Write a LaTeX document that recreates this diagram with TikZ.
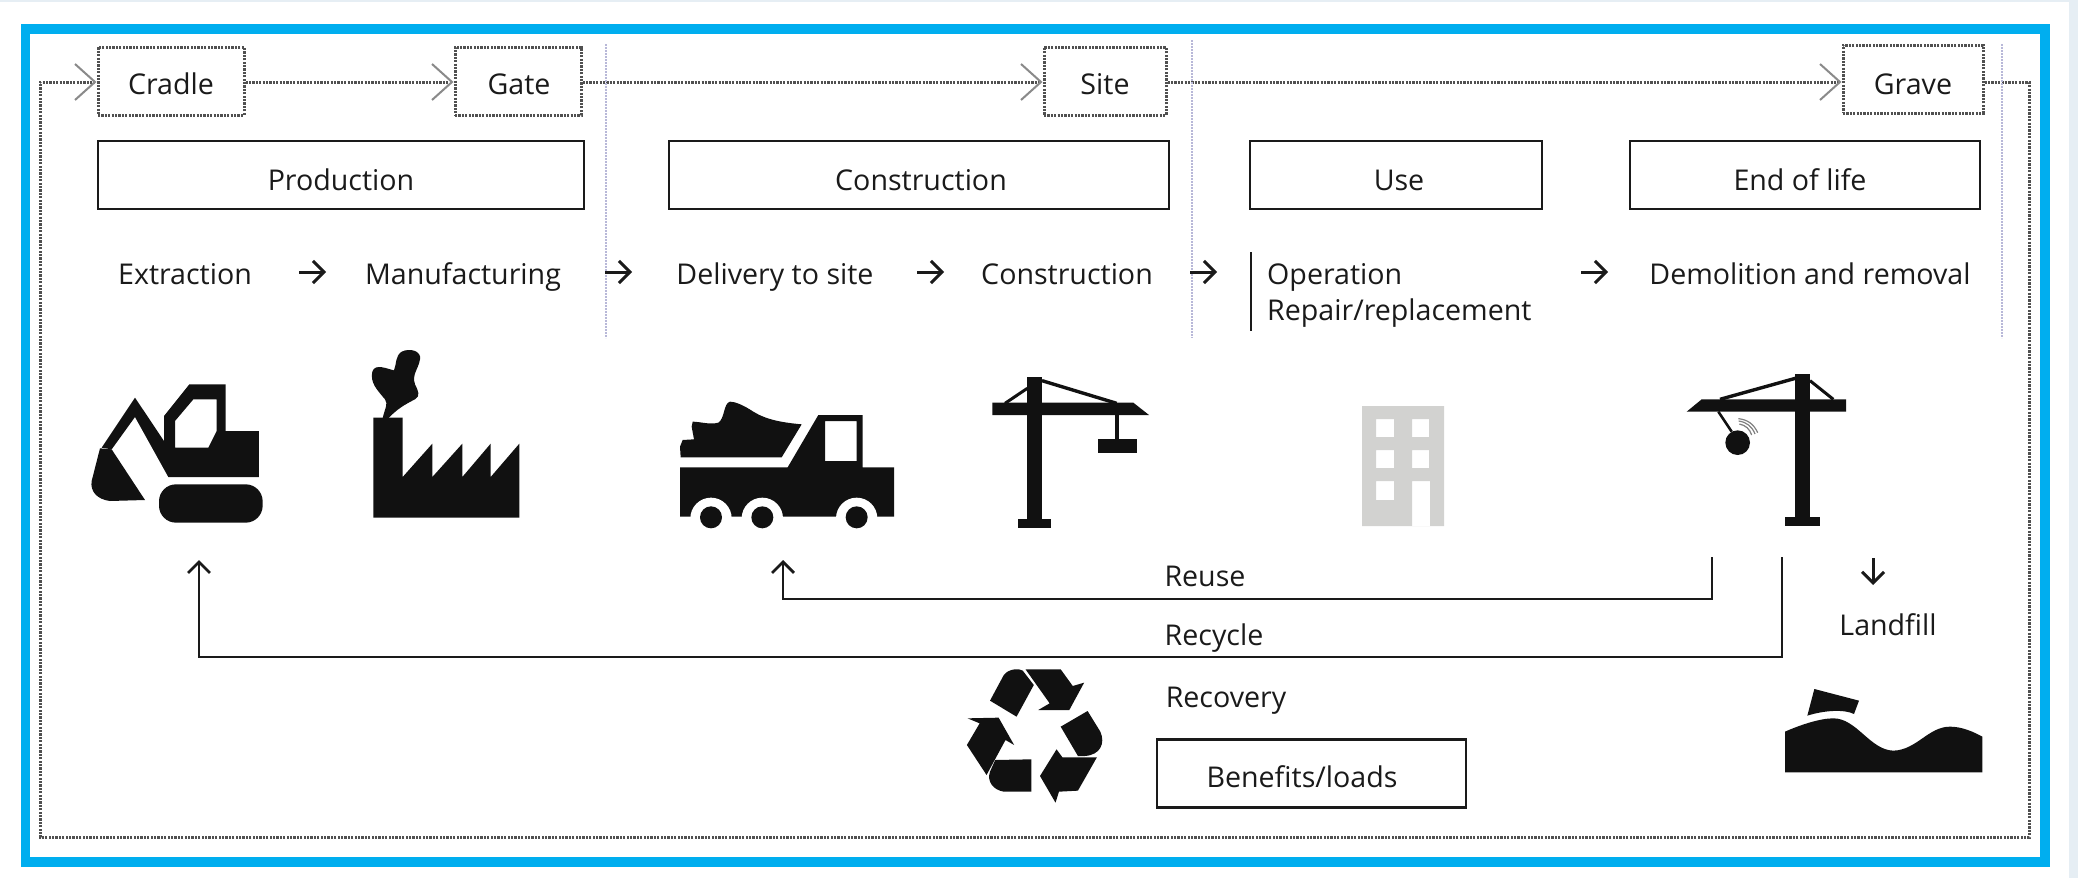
\documentclass[tikz,border=0pt]{standalone}
\usepackage{fontspec}
\setmainfont{Open Sans}
\usetikzlibrary{arrows.meta}
\definecolor{ink}{HTML}{1A1A1A}
\definecolor{icon}{HTML}{111111}
\definecolor{frame}{HTML}{00AEEF}
\definecolor{page}{HTML}{E6EEF4}
\definecolor{dotc}{HTML}{505050}
\definecolor{tipc}{HTML}{8A8A8A}
\definecolor{divc}{HTML}{B8B8D8}
\definecolor{bldg}{HTML}{D2D2D0}
\tikzset{
 x=1pt,y=-1pt,
 lbl/.style={font=\fontsize{28.6}{32}\selectfont,text=ink,inner sep=0pt,anchor=base},
 lblw/.style={lbl,anchor=base west},
 solidbox/.style={draw=ink,line width=2.7pt,fill=white,inner sep=0pt},
 dotbox/.style={draw=dotc,line width=3pt,dash pattern=on 2.2pt off 1.2pt,inner sep=0pt},
 dotline/.style={draw=dotc,line width=3pt,dash pattern=on 2.2pt off 1.2pt},
 dotarrow/.style={dotline,-{Straight Barb[length=20pt,width=36pt,line width=2pt,color=tipc]}},
 divider/.style={draw=divc,line width=1.6pt,dash pattern=on 2pt off 1pt},
 flow/.style={draw=ink,line width=2.8pt,-{Straight Barb[length=11pt,width=22pt,line width=2.8pt]}},
 mini/.style={draw=ink,line width=3pt,-{Straight Barb[length=11pt,width=22pt,line width=3pt]}},
 solid3/.style={fill=icon,draw=none},
}
\begin{document}
\begin{tikzpicture}
\useasboundingbox (0,0) rectangle (2078,878);
\fill[page] (0,0) rectangle (2078,878);
\fill[white] (0,2) rectangle (2069,878);
\draw[frame,line width=9.5pt] (25.5,29) rectangle (2045,862);

% top row boxes
\node[dotbox,minimum width=146pt,minimum height=68pt] (cradle) at (171,81) {};
\node[lbl] at (171,94) {Cradle};
\node[dotbox,minimum width=126pt,minimum height=68pt] (gate) at (518,81) {};
\node[lbl] at (519,94) {Gate};
\node[dotbox,minimum width=122pt,minimum height=68pt] (site) at (1105,81) {};
\node[lbl] at (1105,94) {Site};
\node[dotbox,minimum width=140pt,minimum height=68pt] (grave) at (1913,79) {};
\node[lbl] at (1913,94) {Grave};

\coordinate (loopTL) at (40,82);
\coordinate (loopBL) at (40,837);
\coordinate (loopBR) at (2029,837);
\coordinate (loopTR) at (2029,82);
\draw[dotarrow] (grave.east |- loopTR) -- (loopTR) -- (loopBR) -- (loopBL) -- (loopTL) -- (cradle.west |- loopTL);
\draw[dotarrow] (cradle.east |- loopTL) -- (gate.west |- loopTL);
\draw[dotarrow] (gate.east |- loopTL) -- (site.west |- loopTL);
\draw[dotarrow] (site.east |- loopTL) -- (grave.west |- loopTL);

% dividers
\coordinate (d1t) at (606,44); \coordinate (d1b) at (606,338);
\coordinate (d2t) at (1192,40); \coordinate (d2b) at (1192,338);
\coordinate (d3t) at (2002,44); \coordinate (d3b) at (2002,338);
\draw[divider] (d1t)--(d1b); \draw[divider] (d2t)--(d2b); \draw[divider] (d3t)--(d3b);

% stage boxes
\node[solidbox,minimum width=486pt,minimum height=68pt] (prod) at (341,175) {};
\node[lbl] at (341,190) {Production};
\node[solidbox,minimum width=500pt,minimum height=68pt] (cons) at (919,175) {};
\node[lbl] at (921,190) {Construction};
\node[solidbox,minimum width=292pt,minimum height=68pt] (use) at (1396,175) {};
\node[lbl] at (1399,190) {Use};
\node[solidbox,minimum width=350pt,minimum height=68pt] (eol) at (1805,175) {};
\node[lbl] at (1800,190) {End of life};

% process row
\node[lbl] (ext) at (185,284) {Extraction};
\node[lbl] (man) at (463,284) {Manufacturing};
\node[lbl] (del) at (775,284) {Delivery to site};
\node[lbl] (con) at (1067,284) {Construction};
\node[lblw] (ope) at (1267,284) {Operation};
\node[lblw] (rep) at (1267,320) {Repair/replacement};
\node[lbl] (dem) at (1810,284) {Demolition and removal};
\coordinate (a1s) at (299,272); \coordinate (a1e) at (326,272);
\coordinate (a2s) at (605,272); \coordinate (a2e) at (632,272);
\coordinate (a3s) at (917,272); \coordinate (a3e) at (944,272);
\coordinate (a4s) at (1190,272); \coordinate (a4e) at (1217,272);
\coordinate (a5s) at (1581,272); \coordinate (a5e) at (1608,272);
\draw[mini] (a1s)--(a1e); \draw[mini] (a2s)--(a2e); \draw[mini] (a3s)--(a3e);
\draw[mini] (a4s)--(a4e); \draw[mini] (a5s)--(a5e);
\coordinate (bart) at (1251,252); \coordinate (barb) at (1251,331);
\draw[draw=ink,line width=2.4pt] (bart)--(barb);

% excavator
\begin{scope}[shift={(60,341)},x=1/3*1pt,y=-1/3*1pt]
\path[solid3,even odd rule] (225,170)--(312,300)--(312,225)--(388,130)--(497,130)--(497,270)--(597,270)--(597,408)--(325,408)--(225,228)--(155,325)--(125,320)--cycle
 (345,240)--(400,175)--(470,175)--(470,270)--(445,320)--(345,320)--cycle;
\path[solid3] (120,322)--(155,325)--(255,477)--(150,480) .. controls (110,475) and (90,450) .. (95,420) -- cycle;
\path[solid3,rounded corners=17pt] (297,430) rectangle (608,545);
% factory
\path[solid3] (940,230)--(1028,230)--(1028,408)--(1117,308)--(1117,408)--(1207,308)--(1207,408)--(1292,308)--(1292,408)--(1378,308)--(1378,530)--(940,530)--cycle;
\path[solid3] (968,232) .. controls (975,200) and (985,190) .. (975,175) .. controls (950,145) and (930,125) .. (937,92) .. controls (945,65) and (985,85) .. (1002,88) .. controls (1010,70) and (1005,45) .. (1025,32) .. controls (1050,20) and (1085,30) .. (1080,55) .. controls (1075,85) and (1055,100) .. (1065,130) .. controls (1075,150) and (1082,165) .. (1065,175) .. controls (1035,190) and (1010,205) .. (985,232) -- cycle;
\end{scope}

% truck and crane
\begin{scope}[shift={(650,360)},x=1/3*1pt,y=-1/3*1pt]
\path[solid3] (92,292)--(395,292)--(455,193) .. controls (400,188) and (350,180) .. (310,155) .. controls (280,135) and (255,125) .. (240,125) .. controls (220,130) and (225,175) .. (205,188) .. controls (180,195) and (150,185) .. (128,185) -- (125,200) -- (132,238) -- (98,240) -- (90,260) -- cycle;
\path[solid3,even odd rule] (90,322)--(413,322)--(505,165)--(638,165)--(638,322)--(732,322)--(732,470)--(90,470)--cycle
 (525,183) rectangle (620,303);
\fill[white] (183,475) circle[radius=62];
\fill[white] (337,475) circle[radius=62];
\fill[white] (620,475) circle[radius=62];
\fill[icon] (183,472) circle[radius=33];
\fill[icon] (337,472) circle[radius=33];
\fill[icon] (620,472) circle[radius=33];
% crane
\path[solid3] (1132,52) rectangle (1176,480);
\path[solid3] (1103,478) rectangle (1203,504);
\path[solid3] (1027,128)--(1450,128)--(1497,165)--(1027,165)--cycle;
\draw[icon,line width=3pt] (1132,85)--(1065,130);
\draw[icon,line width=3.4pt] (1176,62)--(1400,130);
\draw[icon,line width=4pt] (1400,165)--(1400,240);
\path[solid3] (1343,237) rectangle (1460,280);
\end{scope}

% building
\path[fill=bldg,even odd rule] (1362,406) rectangle (1444,526)
 (1376,419) rectangle (1394,437) (1412,419) rectangle (1429,437)
 (1376,450) rectangle (1394,468) (1412,450) rectangle (1429,468)
 (1376,481) rectangle (1394,500) (1412,481) rectangle (1430,526);

% wrecking crane and landfill
\begin{scope}[shift={(1650,360)},x=1/3*1pt,y=-1/3*1pt]
\path[solid3] (436,42) rectangle (480,472);
\path[solid3] (406,470) rectangle (510,498);
\path[solid3] (110,155)--(155,118)--(588,118)--(588,155)--cycle;
\draw[icon,line width=3.4pt] (210,118)--(436,55);
\draw[icon,line width=3pt] (480,62)--(550,118);
\draw[icon,line width=2.6pt] (205,155)--(245,215);
\fill[icon] (263,248) circle[radius=37];
\draw[gray,line width=1.2pt] (268,192) to[bend left=30] (305,225);
\draw[gray,line width=1.2pt] (266,183) to[bend left=30] (315,222);
\draw[gray,line width=1.2pt] (265,176) to[bend left=30] (323,218);
\path[solid3] (493,987)--(627,1022)--(612,1062) .. controls (585,1048) and (525,1050) .. (472,1067) -- cycle;
\path[solid3] (405,1115) .. controls (450,1095) and (510,1075) .. (550,1075) .. controls (620,1075) and (660,1170) .. (730,1172) .. controls (800,1170) and (835,1100) .. (900,1100) .. controls (935,1100) and (970,1115) .. (997,1130) -- (997,1237) -- (405,1237) -- cycle;
\end{scope}

% recycle symbol
\begin{scope}[shift={(940,650)},x=1/2.9*1pt,y=-1/3*1pt]
\path[solid3] (145,152)--(185,75) .. controls (200,55) and (230,55) .. (240,62) -- (272,105) -- (222,200) -- cycle;
\path[solid3] (248,58)--(350,58)--(385,108)--(418,98)--(375,180)--(285,180)--(318,160)--cycle;
\path[solid3] (350,230)--(428,183)--(465,245) .. controls (480,280) and (465,315) .. (420,318) -- (400,318) -- cycle;
\path[solid3] (455,322)--(400,422)--(345,425)--(335,458)--(290,378)--(338,298)--(355,322)--cycle;
\path[solid3] (265,328)--(265,425)--(185,425) .. controls (155,420) and (135,395) .. (145,365) -- (160,330) -- cycle;
\path[solid3] (135,375)--(78,285)--(115,220)--(80,205)--(170,203)--(215,285)--(190,270)--cycle;
\end{scope}

% loops
\node[lbl] (reuse) at (1205,586) {Reuse};
\node[lbl] (recycle) at (1214,645) {Recycle};
\node[lbl] (recovery) at (1226,707) {Recovery};
\node[lbl] (landfill) at (1888,635) {Landfill};
\node[solidbox,minimum width=309pt,minimum height=68pt] (benefits) at (1311.5,773.5) {};
\node[lbl] at (1302,787) {Benefits/loads};
\coordinate (ru) at (1712,557); \coordinate (ruc) at (1712,599); \coordinate (rua) at (783,560);
\coordinate (rc) at (1782,557); \coordinate (rcc) at (1782,657); \coordinate (rca) at (199,560);
\draw[flow] (ru)--(ruc)--(rua |- ruc)--(rua);
\draw[flow] (rc)--(rcc)--(rca |- rcc)--(rca);
\coordinate (ls) at (1873,558); \coordinate (le) at (1873,585);
\draw[mini] (ls)--(le);
\end{tikzpicture}
\end{document}
